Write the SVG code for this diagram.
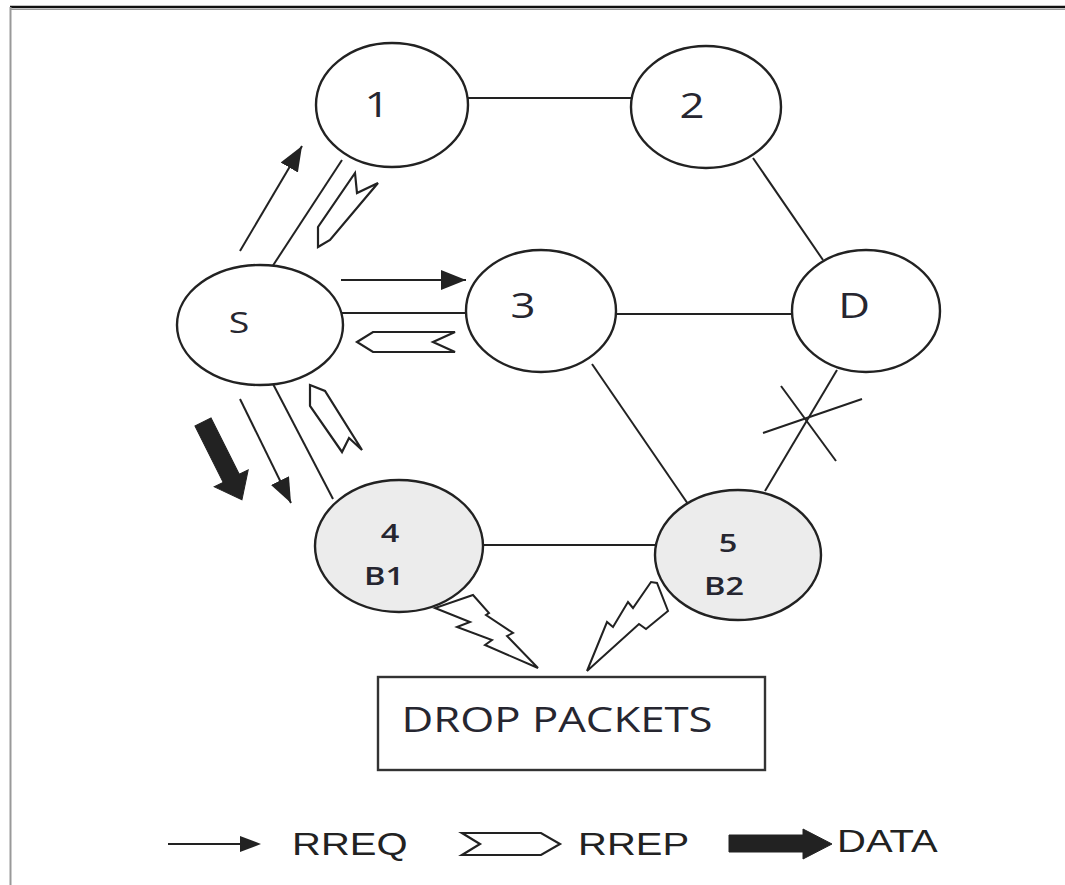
<svg xmlns="http://www.w3.org/2000/svg" width="1065" height="885" viewBox="0 0 1065 885">
  <style>
    .node { fill: #ffffff; stroke: #222; stroke-width: 2.4; }
    .node.busy { fill: #ececec; }
    .link { stroke: #222; stroke-width: 2; fill: none; }
    .rreq { stroke: #222; stroke-width: 2; fill: none; marker-end: url(#head); }
    .rrep { fill: #fff; stroke: #222; stroke-width: 2.2; stroke-linejoin: miter; }
    .data { fill: #222; stroke: #222; stroke-width: 1; }
    .bolt { fill: #fff; stroke: #222; stroke-width: 2; stroke-linejoin: miter; }
    .lbl { font-family: "Open Sans", "Noto Sans", sans-serif; font-size: 35px; fill: #262630; text-anchor: middle; }
    .lbl.s { font-size: 30px; }
    .lbl.b { font-size: 26px; font-weight: 600; }
    .box { fill: #fff; stroke: #333; stroke-width: 2.4; }
    .boxtxt { font-family: "Open Sans", "Noto Sans", sans-serif; font-size: 35px; fill: #262630; text-anchor: middle; }
    .key { font-family: "Liberation Sans", Arial, sans-serif; font-size: 32px; fill: #222; }
  </style>
  <defs>
    <marker id="head" markerUnits="userSpaceOnUse" markerWidth="26" markerHeight="22" refX="25" refY="10" orient="auto">
      <path d="M0 0 L25 10 L0 20 Z" fill="#222"/>
    </marker>
  </defs>

  <!-- frame -->
  <line x1="10" y1="7" x2="1065" y2="7" stroke="#111" stroke-width="2.5"/>
  <line x1="10" y1="9.5" x2="1065" y2="9.5" stroke="#999" stroke-width="1.2"/>
  <line x1="10.5" y1="7" x2="10.5" y2="885" stroke="#999" stroke-width="2"/>

  <!-- links between nodes -->
  <g id="links">
    <line class="link" x1="468" y1="98" x2="632" y2="98"/>
    <line class="link" x1="753" y1="158" x2="823" y2="260"/>
    <line class="link" x1="272" y1="267" x2="342" y2="160"/>
    <line class="link" x1="342" y1="313" x2="467" y2="313"/>
    <line class="link" x1="616" y1="314" x2="792" y2="314"/>
    <line class="link" x1="272" y1="382" x2="333" y2="499"/>
    <line class="link" x1="592" y1="364" x2="688" y2="504"/>
    <line class="link" x1="837" y1="370" x2="765" y2="491"/>
    <line class="link" x1="483" y1="545" x2="655" y2="545"/>
    <!-- broken link D-5 -->
    <line class="link" x1="781" y1="386" x2="836" y2="461"/>
    <line class="link" x1="763" y1="433" x2="862" y2="399"/>
  </g>

  <g id="node-1">
    <ellipse class="node" cx="392" cy="105" rx="76" ry="62"/>
    <text class="lbl" transform="translate(377 117) scale(1.25 1)">1</text>
  </g>
  <g id="node-2">
    <ellipse class="node" cx="706" cy="107" rx="75" ry="61"/>
    <text class="lbl" transform="translate(692 118) scale(1.25 1)">2</text>
  </g>
  <g id="node-S">
    <ellipse class="node" cx="260" cy="325" rx="83" ry="60"/>
    <text class="lbl s" transform="translate(239 333) scale(1.25 1)">S</text>
  </g>
  <g id="node-3">
    <ellipse class="node" cx="541" cy="311" rx="75" ry="61"/>
    <text class="lbl" transform="translate(523 318) scale(1.25 1)">3</text>
  </g>
  <g id="node-D">
    <ellipse class="node" cx="866" cy="311" rx="74" ry="61"/>
    <text class="lbl" transform="translate(854 318) scale(1.25 1)">D</text>
  </g>
  <g id="node-4">
    <ellipse class="node busy" cx="399" cy="546" rx="84" ry="66"/>
    <text class="lbl b" transform="translate(390 542) scale(1.25 1)">4</text>
    <text class="lbl b" transform="translate(384 585) scale(1.25 1)">B1</text>
  </g>
  <g id="node-5">
    <ellipse class="node busy" cx="738" cy="555" rx="83" ry="65"/>
    <text class="lbl b" transform="translate(728 552) scale(1.25 1)">5</text>
    <text class="lbl b" transform="translate(724 595) scale(1.25 1)">B2</text>
  </g>

  <!-- route request / reply / data flows -->
  <g id="messages">
    <line class="rreq" x1="240" y1="251" x2="302" y2="146"/>
    <line class="rreq" x1="341" y1="280" x2="466" y2="280"/>
    <line class="rreq" x1="240" y1="399" x2="291" y2="503"/>
    <polygon class="rrep" points="355,173 357,193 378,183 330,240 318,247 318,227"/>
    <polygon class="rrep" points="357,342 373,332 455,332 433,342 455,352 373,352"/>
    <polygon class="rrep" points="310,385 325,391 362,450 349,438 342,452 310,406"/>
    <polygon class="data" transform="translate(203 422) rotate(63.4)" points="0,-9 63,-9 63,-19 87,0 63,19 63,9 0,9"/>
  </g>

  <!-- drops from the black-hole nodes -->
  <g id="drops">
    <polygon class="bolt" points="473,595 489,613 486,615 513,633 507,636 538,668 485,645 492,640 457,627 470,622 435,608"/>
    <polygon class="bolt" points="651,582 633,608 628,602 613,627 607,622 587,671 639,624 646,629 668,611 657,583"/>
  </g>

  <g id="drop-packets">
    <rect class="box" x="378" y="677" width="387" height="93"/>
    <text class="boxtxt" transform="translate(557 732) scale(1.25 1)">DROP PACKETS</text>
  </g>

  <!-- key -->
  <g id="legend">
    <line x1="168" y1="844" x2="242" y2="844" stroke="#222" stroke-width="2"/>
    <polygon points="240,836 261,844 240,852" fill="#222"/>
    <text class="key" transform="translate(292 855) scale(1.25 1)">RREQ</text>
    <polygon class="rrep" points="462,833 541,833 560,844 541,855 462,855 480,844"/>
    <text class="key" transform="translate(578 855) scale(1.25 1)">RREP</text>
    <polygon class="data" points="729,835 803,835 803,829 832,844 803,859 803,852 729,852"/>
    <text class="key" transform="translate(837 852) scale(1.25 1)">DATA</text>
  </g>
</svg>
